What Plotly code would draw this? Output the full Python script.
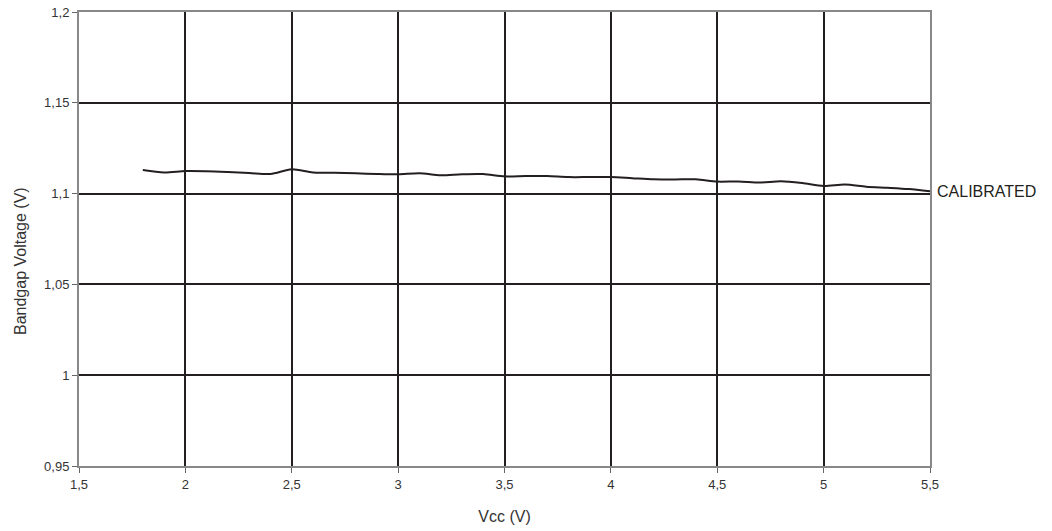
import plotly.graph_objects as go

vcc = [1.8, 1.9, 2.0, 2.1, 2.2, 2.3, 2.4, 2.5, 2.6, 2.7, 2.8, 2.9, 3.0, 3.1, 3.2, 3.3,
       3.4, 3.5, 3.6, 3.7, 3.8, 3.9, 4.0, 4.1, 4.2, 4.3, 4.4, 4.5, 4.6, 4.7, 4.8, 4.9,
       5.0, 5.1, 5.2, 5.3, 5.4, 5.5]
bandgap = [1.1130, 1.1116, 1.1124, 1.1123, 1.1119, 1.1114, 1.1108, 1.1134, 1.1116, 1.1115,
           1.1112, 1.1108, 1.1106, 1.1112, 1.1101, 1.1107, 1.1108, 1.1095, 1.1097, 1.1097,
           1.1091, 1.1091, 1.1091, 1.1085, 1.1079, 1.1078, 1.1079, 1.1066, 1.1067, 1.1061,
           1.1068, 1.1058, 1.1042, 1.1050, 1.1038, 1.1032, 1.1025, 1.1013]
x_ticks = [1.5, 2, 2.5, 3, 3.5, 4, 4.5, 5, 5.5]
x_labels = ["1,5", "2", "2,5", "3", "3,5", "4", "4,5", "5", "5,5"]
y_ticks = [0.95, 1.0, 1.05, 1.1, 1.15, 1.2]
y_labels = ["0,95", "1", "1,05", "1,1", "1,15", "1,2"]
series_label = "CALIBRATED"
x_title = "Vcc (V)"
y_title = "Bandgap Voltage (V)"

FONT = "Liberation Sans, Arial, sans-serif"

fig = go.Figure()
fig.add_trace(go.Scatter(x=vcc, y=bandgap, mode="lines",
                         line=dict(color="#231f20", width=2, shape="spline", smoothing=0.8),
                         showlegend=False, hoverinfo="skip"))
fig.add_annotation(x=vcc[-1], y=bandgap[-1], text=series_label, showarrow=False,
                   xanchor="left", yanchor="middle", xshift=5,
                   font=dict(family=FONT, size=16, color="#231f20"))
fig.add_annotation(xref="paper", yref="paper", x=0, y=0.4515, xshift=-59,
                   text=y_title, textangle=-90, showarrow=False,
                   xanchor="center", yanchor="middle",
                   font=dict(family=FONT, size=16, color="#333333"))

axis_common = dict(showgrid=True, gridcolor="#231f20", gridwidth=2,
                   showline=True, linecolor="#888888", linewidth=2, mirror=True,
                   ticks="outside", ticklen=5, tickcolor="#666666", tickwidth=1,
                   zeroline=False, automargin=False,
                   tickfont=dict(family=FONT, size=13, color="#333333"))

fig.update_xaxes(range=[1.5, 5.5], tickvals=x_ticks, ticktext=x_labels,
                 title=dict(text=x_title, standoff=20,
                            font=dict(family=FONT, size=16, color="#333333")),
                 **axis_common)
fig.update_yaxes(range=[0.95, 1.2], tickvals=y_ticks, ticktext=y_labels,
                 **axis_common)

fig.update_layout(width=1052, height=531, paper_bgcolor="white", plot_bgcolor="white",
                  margin=dict(l=79, r=122, t=12, b=65, autoexpand=False))

fig.write_html("out.html", config={"displayModeBar": False},
               post_script="document.body.style.margin='0';")
